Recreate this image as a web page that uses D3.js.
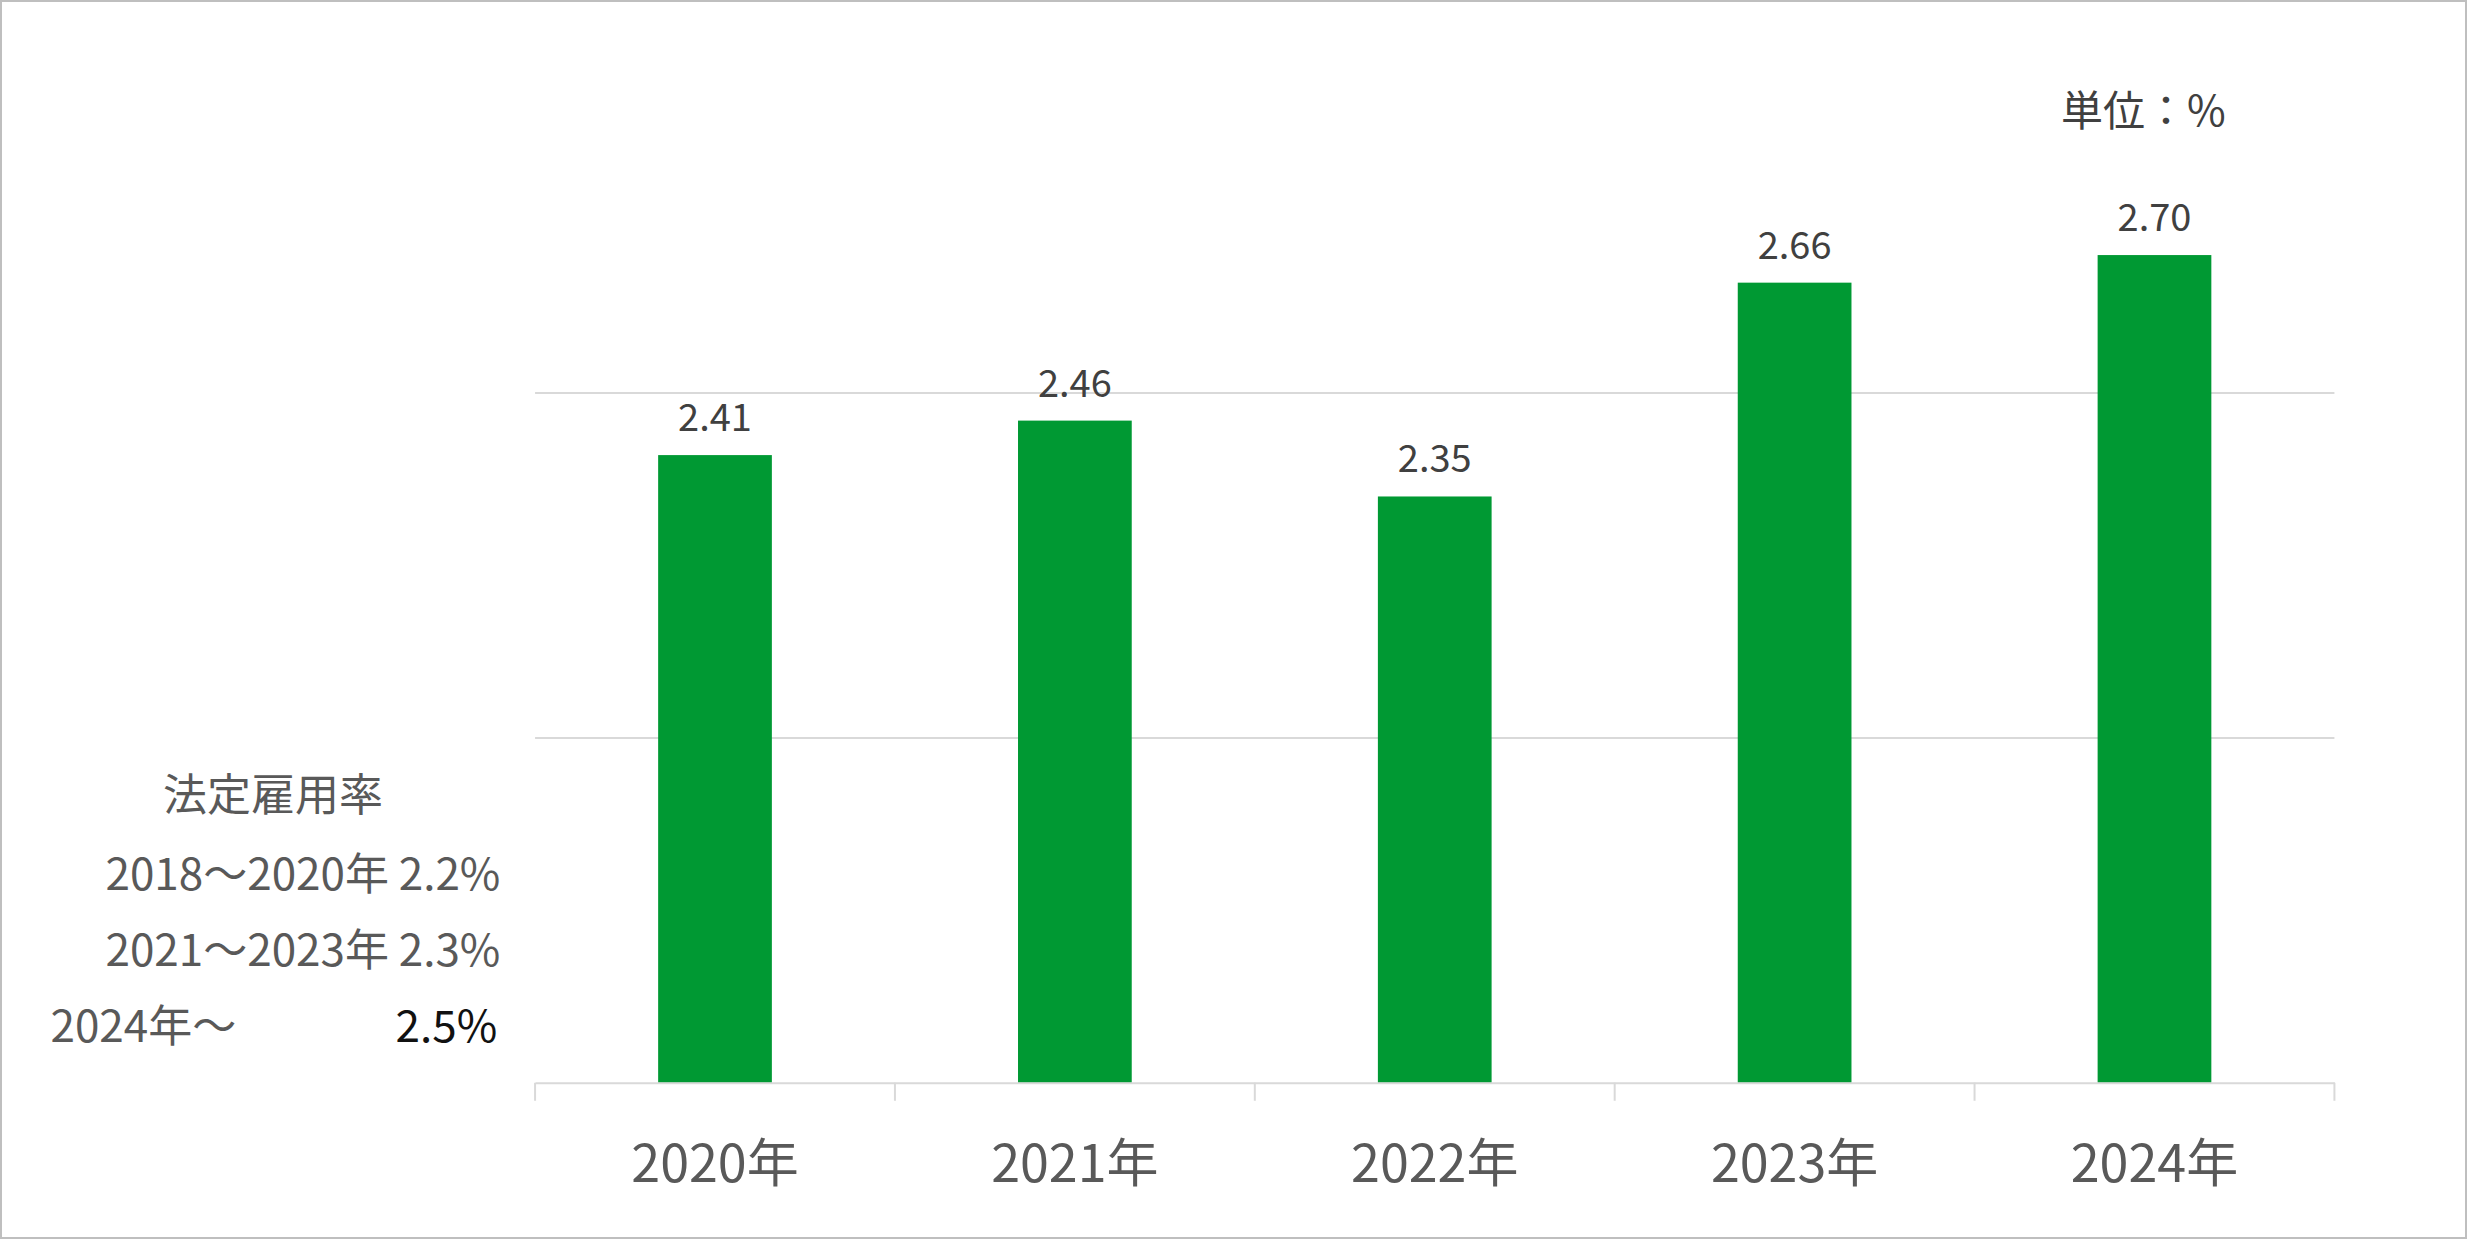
<!DOCTYPE html>
<html><head><meta charset="utf-8">
<script src="https://cdn.jsdelivr.net/npm/d3@7"></script>
<style>body{margin:0;background:#fff}text{font-family:"Noto Sans CJK JP","Noto Sans",sans-serif}</style>
</head><body><svg id="c" width="2467" height="1239"></svg>
<script>
const categories=["2020年","2021年","2022年","2023年","2024年"];
const values=[2.41,2.46,2.35,2.66,2.70];
const gridTicks=[2.0,2.5];
const noteTitle="法定雇用率";
const noteLines=["2018～2020年 2.2%","2021～2023年 2.3%"];
const noteLast=["2024年～","2.5%"];
const unitLabel="単位：%";
const k=2467/1563;
const svg=d3.select("#c");
svg.append("rect").attr("x",1).attr("y",1).attr("width",2465).attr("height",1237).attr("fill","#fff").attr("stroke","#bfbfbf").attr("stroke-width",2);
const x=d3.scaleBand().domain(categories).range([339*k,1479*k]).paddingInner(0.684).paddingOuter(0.342);
const y=d3.scaleLinear().domain([1.5,2.5]).range([686*k,249*k]);
const g=svg.append("g");
gridTicks.forEach(t=>g.append("line").attr("x1",339*k).attr("x2",1479*k).attr("y1",y(t)).attr("y2",y(t)).attr("stroke","#d9d9d9").attr("stroke-width",2));
g.selectAll("rect.b").data(values).join("rect").attr("class","b").attr("x",(d,i)=>x(categories[i])).attr("width",x.bandwidth()).attr("y",d=>y(d)).attr("height",d=>y(1.5)-y(d)).attr("fill","#009933");
g.selectAll("text.v").data(values).join("text").attr("class","v").attr("x",(d,i)=>x(categories[i])+x.bandwidth()/2).attr("y",d=>y(d)-24).attr("text-anchor","middle").attr("font-size",38).attr("fill","#404040").text(d=>d.toFixed(2));
const ax=g.append("g").attr("transform",`translate(0,${y(1.5)})`).call(d3.axisBottom(x).tickSize(0).tickPadding(62));
ax.select(".domain").attr("stroke","#d9d9d9").attr("stroke-width",2);
ax.selectAll("text").attr("font-size",52).attr("fill","#595959").attr("font-family","Noto Sans CJK JP");
const step=x.step();
d3.range(categories.length+1).forEach(i=>g.append("line").attr("x1",339*k+i*step).attr("x2",339*k+i*step).attr("y1",y(1.5)).attr("y2",y(1.5)+18).attr("stroke","#d9d9d9").attr("stroke-width",2));
svg.append("text").attr("x",1358*k).attr("y",80*k).attr("text-anchor","middle").attr("font-size",42).attr("fill","#404040").text(unitLabel);
svg.append("text").attr("x",173*k).attr("y",514*k).attr("text-anchor","middle").attr("font-size",44).attr("fill","#595959").text(noteTitle);
noteLines.forEach((t,i)=>svg.append("text").attr("x",317*k).attr("y",(564+48*i)*k).attr("text-anchor","end").attr("font-size",44).attr("fill","#595959").text(t));
svg.append("text").attr("x",32*k).attr("y",660*k).attr("font-size",44).attr("fill","#595959").text(noteLast[0]);
svg.append("text").attr("x",315*k).attr("y",660*k).attr("text-anchor","end").attr("font-size",44).attr("fill","#111").text(noteLast[1]);
</script></body></html>
